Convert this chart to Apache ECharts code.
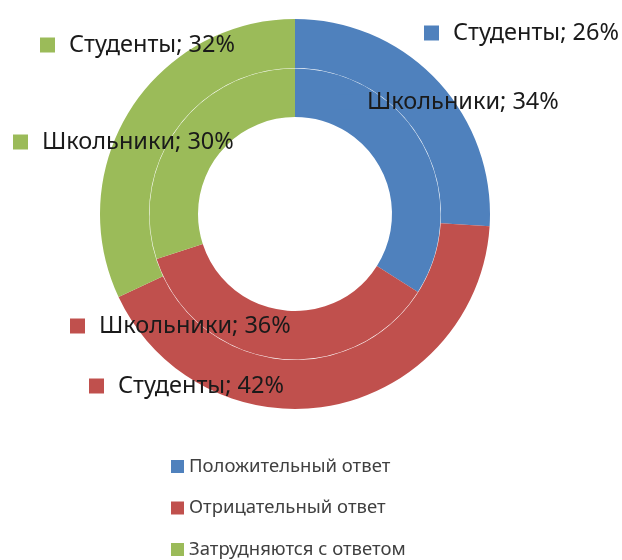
<!DOCTYPE html>
<html lang="ru">
<head>
  <meta charset="UTF-8">
  <title>Опрос</title>
  <script src="https://cdn.jsdelivr.net/npm/echarts@6/dist/echarts.min.js"></script>
  <style>
    body { margin: 0; background: #fff; }
    #chart { width: 622px; height: 560px; }
  </style>
</head>
<body>
  <div id="chart"></div>
  <script>
    // категории ответов и значения (в %)
    const answers = ['Положительный ответ', 'Отрицательный ответ', 'Затрудняются с ответом'];
    const pupils = [34, 36, 30];   // Школьники, внутреннее кольцо
    const students = [26, 42, 32]; // Студенты, внешнее кольцо
    const colors = ['#4F81BD', '#C0504D', '#9BBB59'];

    // куда ставить подписи (левый край квадрата, середина по высоте)
    const innerLabelPos = [[338, 102], [70, 326], [13, 142]];
    const outerLabelPos = [[424, 33], [89, 386], [40, 45]];

    const chart = echarts.init(document.getElementById('chart'));

    const rich = { t: { fontSize: 23.5, color: '#1a1a1a', fontFamily: 'Noto Sans', padding: [0, 0, 0, 14] } };
    colors.forEach((c, i) => {
      rich['s' + i] = { width: 15, height: 15, backgroundColor: c };
    });

    function ring(name, values, radius, pos) {
      return {
        name: name,
        type: 'pie',
        center: [295, 214],
        radius: radius,
        startAngle: 90,
        clockwise: true,
        silent: true,
        itemStyle: { borderWidth: 0 },
        label: {
          show: true,
          position: 'outside',
          overflow: 'none',
          formatter: p => `{s${p.dataIndex}|}{t|${p.seriesName}; ${p.value}%}`,
          rich: rich
        },
        labelLine: { show: false },
        labelLayout: p => ({
          x: pos[p.dataIndex][0],
          y: pos[p.dataIndex][1],
          align: 'left',
          verticalAlign: 'middle'
        }),
        data: values.map((v, i) => ({ name: answers[i], value: v }))
      };
    }

    chart.setOption({
      animation: false,
      color: colors,
      legend: {
        orient: 'vertical',
        left: 171,
        top: 457,
        height: 130,
        padding: 0,
        itemWidth: 13,
        itemHeight: 13,
        itemGap: 22.5,
        icon: 'rect',
        textStyle: { fontSize: 18.5, lineHeight: 18, color: '#404040', fontFamily: 'Noto Sans' },
        data: answers
      },
      series: [
        ring('Школьники', pupils, [97, 145.5], innerLabelPos),
        ring('Студенты', students, [146, 195], outerLabelPos)
      ]
    });
  </script>
</body>
</html>
